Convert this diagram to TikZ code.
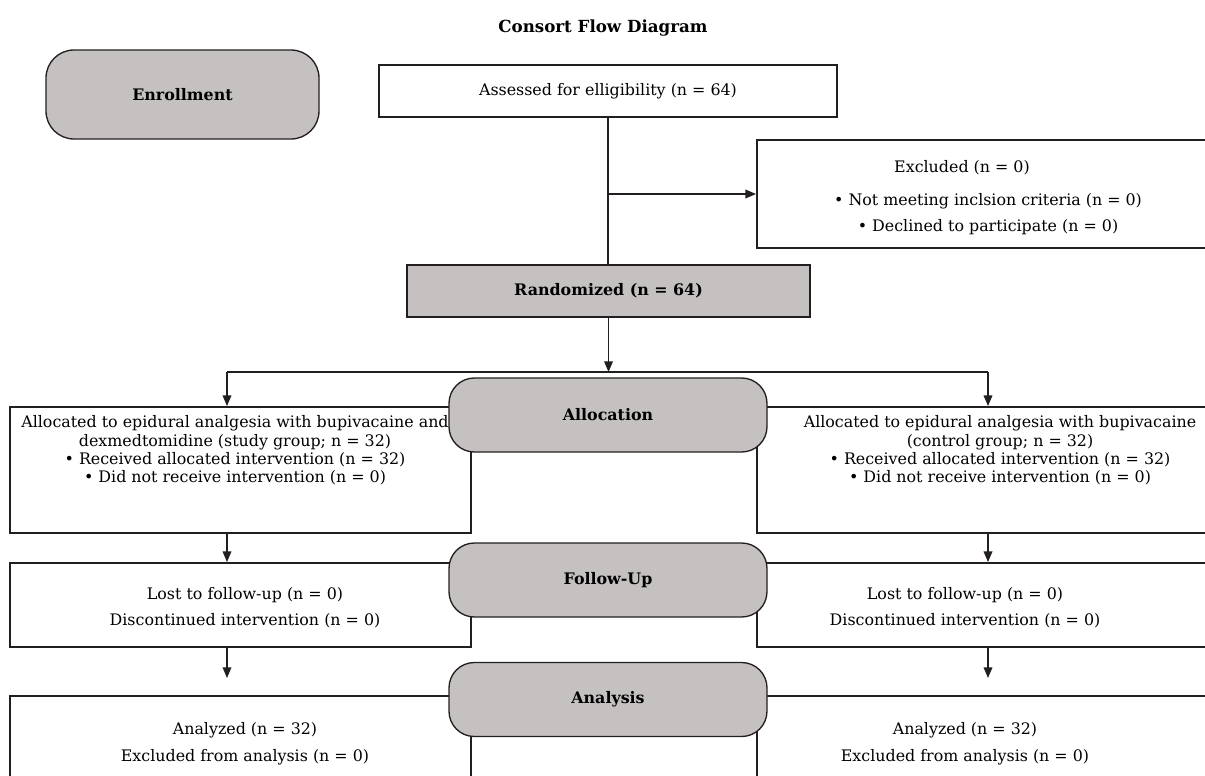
\documentclass[tikz,border=0pt]{standalone}
\usepackage{fontspec}
\setmainfont{DejaVu Serif}
\usetikzlibrary{arrows.meta}
\definecolor{boxgray}{HTML}{C4C1C0}
\definecolor{ink}{HTML}{231F20}
\begin{document}
\begin{tikzpicture}[x=0.75pt,y=-0.75pt,
  font=\fontsize{11.9}{13.8}\selectfont,
  box/.style={draw=ink,line width=1.4pt,fill=white,inner sep=0pt},
  graybox/.style={box,fill=boxgray},
  stage/.style={draw=ink,line width=1pt,fill=boxgray,rounded corners=19pt,inner sep=0pt,
    minimum width=238.5pt,minimum height=55.5pt,font=\fontsize{11.9}{13.8}\selectfont\bfseries},
  conn/.style={draw=ink,line width=1pt},
  arr/.style={conn,-{Triangle[length=8pt,width=6.5pt]}},
  txt/.style={align=center,inner sep=0pt},
  wide/.style={txt,font=\fontsize{11.9}{19.5}\selectfont}]
\useasboundingbox (0,0) rectangle (1205,775);
\clip (0,0) rectangle (1205,775);

% title
\node[txt,font=\fontsize{12.5}{14}\selectfont\bfseries] (title) at (603,28) {Consort Flow Diagram};

% boxes
\node[stage,minimum width=204.75pt,minimum height=66.75pt,rounded corners=21pt] (enroll) at (182.5,94.5) {Enrollment};
\node[box,minimum width=343.5pt,minimum height=39pt] (assess) at (608,91) {Assessed for elligibility (n = 64)};
\node[box,minimum width=346.5pt,minimum height=81pt] (excl) at (988,194) {};
\node[txt] (excl1) at (962,168) {Excluded (n = 0)};
\node[wide] (excl2) at (988,214) {• Not meeting inclsion criteria (n = 0)\\• Declined to participate (n = 0)};
\node[graybox,minimum width=302.25pt,minimum height=39pt,font=\fontsize{11.9}{13.8}\selectfont\bfseries] (rand) at (608.5,291) {Randomized (n = 64)};

\node[box,minimum width=345.75pt,minimum height=94.5pt] (allocL) at (240.5,470) {};
\node[box,minimum width=364.5pt,minimum height=94.5pt] (allocR) at (1000,470) {};
\node[txt] (allocLt) at (235,450.5) {Allocated to epidural analgesia with bupivacaine and\\dexmedtomidine (study group; n = 32)\\• Received allocated intervention (n = 32)\\• Did not receive intervention (n = 0)};
\node[txt] (allocRt) at (1000,450.5) {Allocated to epidural analgesia with bupivacaine\\(control group; n = 32)\\• Received allocated intervention (n = 32)\\• Did not receive intervention (n = 0)};

\node[box,minimum width=345.75pt,minimum height=63pt] (fuL) at (240.5,605) {};
\node[box,minimum width=364.5pt,minimum height=63pt] (fuR) at (1000,605) {};
\node[wide] (fuLt) at (245,607.5) {Lost to follow-up (n = 0)\\Discontinued intervention (n = 0)};
\node[wide] (fuRt) at (965,607.5) {Lost to follow-up (n = 0)\\Discontinued intervention (n = 0)};

\node[box,minimum width=345.75pt,minimum height=93pt] (anL) at (240.5,758) {};
\node[box,minimum width=364.5pt,minimum height=93pt] (anR) at (1000,758) {};
\node[wide,font=\fontsize{11.9}{20.25}\selectfont] (anLt) at (245,743.5) {Analyzed (n = 32)\\Excluded from analysis (n = 0)};
\node[wide,font=\fontsize{11.9}{20.25}\selectfont] (anRt) at (965,743.5) {Analyzed (n = 32)\\Excluded from analysis (n = 0)};

% connectors
\coordinate (jx) at (608,194);
\coordinate (split) at (608.5,372);
\coordinate (splitL) at (227,372);
\coordinate (splitR) at (988,372);
\coordinate (anLtip) at (227,678);
\coordinate (anRtip) at (988,678);

\draw[conn] (assess.south -| jx) -- (rand.north -| jx);
\draw[arr] (jx) -- (excl.west);
\draw[arr] (rand.south) -- (split);
\draw[conn] (splitL) -- (splitR);
\draw[arr] (splitL) -- (allocL.north -| splitL);
\draw[arr] (splitR) -- (allocR.north -| splitR);
\draw[arr] (allocL.south -| splitL) -- (fuL.north -| splitL);
\draw[arr] (allocR.south -| splitR) -- (fuR.north -| splitR);
\draw[arr] (fuL.south -| splitL) -- (anLtip);
\draw[arr] (fuR.south -| splitR) -- (anRtip);

% stage labels on top
\node[stage] (alloc) at (608,415) {Allocation};
\node[stage] (fu) at (608,580) {Follow-Up};
\node[stage] (an) at (608,699.5) {Analysis};
\end{tikzpicture}
\end{document}
